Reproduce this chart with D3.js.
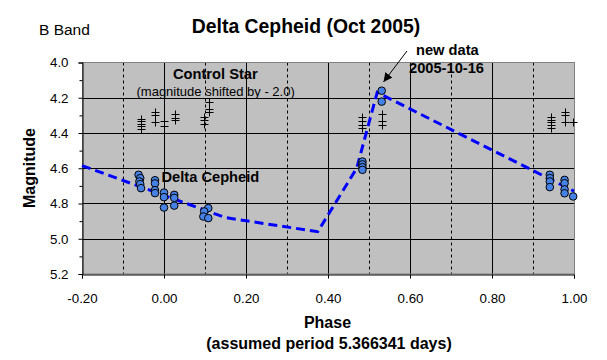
<!DOCTYPE html>
<html><head><meta charset="utf-8">
<script src="https://cdn.jsdelivr.net/npm/d3@7"></script>
<style>body{margin:0;background:#fff}svg{display:block}text{font-family:"Liberation Sans",Arial,sans-serif}</style>
</head><body><svg id="c" width="607" height="360"></svg>
<script>
// Delta Cepheid (variable) – phase and B magnitude
const deltaPhase = [-0.062,-0.058,-0.060,-0.058,-0.056, -0.022,-0.022,-0.022,-0.022, 0.000,0.000,0.000, 0.025,0.025,0.025, 0.108,0.098,0.096,0.108, 0.484,0.484,0.484,0.484, 0.531,0.531, 0.941,0.941,0.941,0.941, 0.977,0.977,0.977,0.977, 0.998];
const deltaMag   = [4.637,4.656,4.675,4.690,4.713, 4.668,4.686,4.724,4.741, 4.738,4.764,4.823, 4.751,4.768,4.812, 4.826,4.845,4.874,4.883, 4.562,4.578,4.594,4.609, 4.160,4.222, 4.637,4.656,4.675,4.707, 4.666,4.685,4.720,4.742, 4.760];
// Control star (magnitude shifted by -2.0)
const controlPhase = [-0.057,-0.057,-0.057,-0.057,-0.057, -0.022,-0.022,-0.022, 0.000,0.000, 0.027,0.027,0.027, 0.098,0.098,0.098, 0.110,0.110,0.110, 0.484,0.484,0.484,0.484, 0.531,0.531,0.531, 0.943,0.943,0.943,0.943,0.943, 0.978,0.978,0.978, 0.998];
const controlMag   = [4.318,4.333,4.348,4.362,4.378, 4.280,4.300,4.335, 4.330,4.358, 4.293,4.313,4.329, 4.309,4.326,4.351, 4.222,4.262,4.280, 4.310,4.330,4.352,4.372, 4.295,4.333,4.352, 4.310,4.325,4.340,4.355,4.370, 4.279,4.297,4.335, 4.335];
// Model light curve (dashed)
const curvePhase = [-0.20, 0.15, 0.375, 0.47, 0.52, 1.00];
const curveMag   = [4.585, 4.88, 4.96, 4.60, 4.17, 4.73];
// Axes
const xTicks = [-0.2,0,0.2,0.4,0.6,0.8,1.0];
const xMinor = [-0.1,0.1,0.3,0.5,0.7,0.9];
const yTicks = [4.0,4.2,4.4,4.6,4.8,5.0,5.2];
const yMinor = [4.1,4.3,4.5,4.7,4.9,5.1];

const svg = d3.select("#c");
const L=82, R=574, T=62.5, B=274;
const x = d3.scaleLinear().domain([-0.2,1.0]).range([L,R]);
const y = d3.scaleLinear().domain([4.0,5.2]).range([T,B]);

svg.append("rect").attr("x",L).attr("y",T).attr("width",R-L).attr("height",B-T).attr("fill","#c0c0c0");

// grid
svg.append("g").selectAll("line").data(yTicks.slice(1,-1)).join("line")
  .attr("x1",L).attr("x2",R).attr("y1",d=>Math.round(y(d))+0.5).attr("y2",d=>Math.round(y(d))+0.5)
  .attr("stroke","#000").attr("stroke-width",1);
svg.append("g").selectAll("line").data(xTicks.slice(1,-1)).join("line")
  .attr("y1",T).attr("y2",B).attr("x1",d=>Math.round(x(d))+0.5).attr("x2",d=>Math.round(x(d))+0.5)
  .attr("stroke","#000").attr("stroke-width",1);
svg.append("g").selectAll("line").data(xMinor).join("line")
  .attr("y1",T).attr("y2",B).attr("x1",d=>Math.round(x(d))+0.5).attr("x2",d=>Math.round(x(d))+0.5)
  .attr("stroke","#000").attr("stroke-width",1).attr("stroke-dasharray","3,3");

// border
svg.append("rect").attr("x",L+0.5).attr("y",T).attr("width",R-L).attr("height",B-T)
  .attr("fill","none").attr("stroke","#808080").attr("stroke-width",1);

// axes
const fs = "13.33px";
const yAx = svg.append("g").attr("transform",`translate(${L+0.5},0)`)
  .call(d3.axisLeft(y).tickValues(yTicks).tickFormat(d3.format(".1f")).tickSize(4).tickPadding(10));
svg.append("g").attr("transform",`translate(${L+0.5},0)`)
  .call(d3.axisLeft(y).tickValues(yMinor).tickFormat("").tickSize(3)).select(".domain").remove();
const xAx = svg.append("g").attr("transform",`translate(0,${B+0.5})`)
  .call(d3.axisBottom(x).tickValues(xTicks).tickFormat(d3.format(".2f")).tickSize(4).tickPadding(15));
[yAx,xAx].forEach(a=>{a.selectAll("text").attr("font-size",fs).attr("fill","#000")
  .attr("font-family","Liberation Sans, Arial, sans-serif");
  a.select(".domain").attr("stroke","#000");});
xAx.selectAll("text").text(d=>d3.format(".2f")(d).replace("−","-"));

// dashed curve
const line = d3.line().x(d=>x(d[0])).y(d=>y(d[1]));
svg.append("path").datum(curvePhase.map((p,i)=>[p,curveMag[i]]))
  .attr("d",line).attr("fill","none").attr("stroke","#0000ff").attr("stroke-width",3)
  .attr("stroke-dasharray","9,5");

// control star plus markers
const cs = svg.append("g").attr("stroke","#000").attr("stroke-width",1);
controlPhase.forEach((p,i)=>{
  const cx=Math.round(x(p))+0.5, cy=Math.round(y(controlMag[i]))+0.5;
  cs.append("line").attr("x1",cx-4).attr("x2",cx+4).attr("y1",cy).attr("y2",cy);
  cs.append("line").attr("x1",cx).attr("x2",cx).attr("y1",cy-4).attr("y2",cy+4);
});

// delta cepheid circles
svg.append("g").selectAll("circle").data(deltaPhase.map((p,i)=>[p,deltaMag[i]])).join("circle")
  .attr("cx",d=>x(d[0])).attr("cy",d=>y(d[1])).attr("r",3.8)
  .attr("fill","#4682e6").attr("stroke","#000").attr("stroke-width",1);

// texts
const F = "Liberation Sans, Arial, sans-serif";
function txt(s,xx,yy,size,bold,anchor){
  return svg.append("text").attr("x",xx).attr("y",yy).attr("font-size",size)
    .attr("font-weight",bold?"bold":"normal").attr("text-anchor",anchor||"start")
    .attr("font-family",F).attr("fill","#000").text(s);
}
txt("B Band",39,35,"15.5px",false);
txt("Delta Cepheid (Oct 2005)",306,33,"19.4px",true,"middle");
txt("new data",416,55,"14.67px",true);
txt("2005-10-16",409,73,"14.67px",true);
txt("Control Star",173,79,"14.67px",true);
txt("(magnitude shifted by - 2.0)",136.5,96,"13px",false);
txt("Delta Cepheid",161.5,182,"14.67px",true);
txt("Phase",(L+R)/2-0.5,328,"16px",true,"middle");
txt("(assumed period 5.366341 days)",(L+R)/2+1,348.5,"16px",true,"middle");
svg.append("text").attr("transform","translate(35,168) rotate(-90)").attr("text-anchor","middle")
  .attr("font-size","16px").attr("font-weight","bold").attr("font-family",F).text("Magnitude");

// arrow
svg.append("defs").append("marker").attr("id","ah").attr("viewBox","0 0 10 10").attr("refX",10).attr("refY",5)
  .attr("markerWidth",9).attr("markerHeight",9).attr("markerUnits","userSpaceOnUse").attr("orient","auto")
  .append("path").attr("d","M0,0L10,5L0,10z").attr("fill","#000");
svg.append("line").attr("x1",407).attr("y1",51).attr("x2",383.5).attr("y2",82)
  .attr("stroke","#000").attr("stroke-width",1).attr("marker-end","url(#ah)");
</script></body></html>
